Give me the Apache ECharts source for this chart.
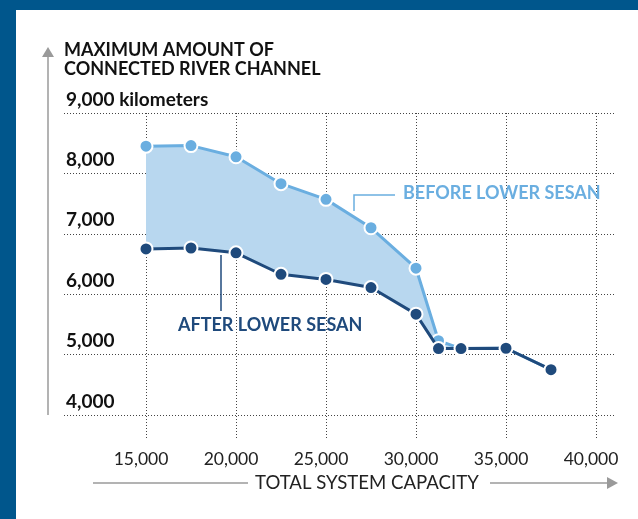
<!DOCTYPE html>
<html>
<head>
<meta charset="utf-8">
<script src="https://cdn.jsdelivr.net/npm/echarts@6/dist/echarts.min.js"></script>
<style>
html,body{margin:0;padding:0;background:#00568c;}
#chart{width:638px;height:519px;}
</style>
</head>
<body>
<div id="chart"></div>
<script>
// ---- data ----
var capacity = [15000, 17500, 20000, 22500, 25000, 27500, 30000, 31250, 32500, 35000, 37500];
var beforeLowerSesan = [8450, 8460, 8275, 7830, 7570, 7100, 6430, 5230, 5100, 5105, 4750];
var afterLowerSesan  = [6750, 6765, 6685, 6330, 6245, 6110, 5670, 5100, 5100, 5105, 4750];
var yTicks = [4000, 5000, 6000, 7000, 8000, 9000];
var xTicks = [15000, 20000, 25000, 30000, 35000, 40000];

var FONT = 'Lato';
var LIGHT = '#6aaee0';
var DARK = '#1f4a7c';
var FILL = '#b8d7ef';

function fmt(v){ return String(v).replace(/\B(?=(\d{3})+(?!\d))/g, ','); }

var pairs = function(ys){ return capacity.map(function(x,i){ return [x, ys[i]]; }); };

var chart = echarts.init(document.getElementById('chart'), null, {renderer:'canvas'});
var option = {
  backgroundColor: '#00568c',
  animation: false,
  textStyle: {fontFamily: FONT},
  graphic: [
    {type:'rect', z:-10, shape:{x:16, y:10, width:640, height:520}, style:{fill:'#ffffff'}},
    {type:'text', left:64, top:40, style:{text:'MAXIMUM AMOUNT OF\nCONNECTED RIVER CHANNEL', font:'bold 18px Lato', fill:'#111', lineHeight:19.5}},
    // y arrow
    {type:'line', shape:{x1:48, y1:56, x2:48, y2:415}, style:{stroke:'#9a9a9a', lineWidth:1.5}},
    {type:'polygon', shape:{points:[[48,47],[42,57],[54,57]]}, style:{fill:'#9a9a9a'}},
    // x arrow
    {type:'line', shape:{x1:93, y1:483, x2:248, y2:483}, style:{stroke:'#9a9a9a', lineWidth:1.5}},
    {type:'text', left:255, top:473, style:{text:'TOTAL SYSTEM CAPACITY', font:'18.6px Lato', fill:'#222'}},
    {type:'line', shape:{x1:490, y1:483, x2:608, y2:483}, style:{stroke:'#9a9a9a', lineWidth:1.5}},
    {type:'polygon', shape:{points:[[618,483],[607,477],[607,489]]}, style:{fill:'#9a9a9a'}},
    // annotations
    {type:'polyline', z:20, shape:{points:[[354,211],[354,195],[395,195]]}, style:{stroke:LIGHT, lineWidth:1.5, fill:null}},
    {type:'text', z:20, left:403, top:184, style:{text:'BEFORE LOWER SESAN', font:'bold 18px Lato', fill:LIGHT}},
    {type:'line', z:20, shape:{x1:221, y1:255, x2:221, y2:311}, style:{stroke:DARK, lineWidth:1.5}},
    {type:'text', z:20, left:178, top:316, style:{text:'AFTER LOWER SESAN', font:'bold 18px Lato', fill:DARK}}
  ],
  grid: [
    {left:146, right:42, top:113, bottom:104},
    {left:64, right:22, top:113, bottom:104},
    {left:146, right:42, top:113, bottom:79}
  ],
  xAxis: [
    {gridIndex:0, type:'value', min:15000, max:40000, show:false},
    {gridIndex:1, type:'value', min:0, max:1, show:false},
    {gridIndex:2, type:'value', min:15000, max:40000, interval:5000,
      axisLine:{show:false}, axisTick:{show:false},
      splitLine:{show:true, lineStyle:{color:'#444', width:1, type:[1,2]}},
      axisLabel:{margin:10, color:'#222', fontFamily:FONT,
        formatter:function(v){ return '{a|' + fmt(v) + '}{p|}'; },
        rich:{a:{fontSize:17.5, color:'#222', fontFamily:FONT}, p:{width:10}}}}
  ],
  yAxis: [
    {gridIndex:0, type:'value', min:4000, max:9000, show:false},
    {gridIndex:1, type:'value', min:4000, max:9000, interval:1000,
      axisLine:{show:false}, axisTick:{show:false},
      splitLine:{show:true, lineStyle:{color:'#444', width:1, type:[1,2]}},
      axisLabel:{inside:true, margin:2, align:'left', verticalAlign:'bottom', padding:[0,0,4,0],
        fontSize:19, fontWeight:'bold', color:'#111', fontFamily:FONT,
        formatter:function(v){ return v === 9000 ? fmt(v) + ' kilometers' : fmt(v); }}},
    {gridIndex:2, type:'value', min:0, max:1, show:false}
  ],
  series: [
    {type:'custom', xAxisIndex:0, yAxisIndex:0, data:[[capacity[0], afterLowerSesan[0]]], silent:true, z:1,
      renderItem:function(params, api){
        var pts = [];
        for (var i = 0; i < capacity.length; i++) pts.push(api.coord([capacity[i], beforeLowerSesan[i]]));
        for (var j = capacity.length - 1; j >= 0; j--) pts.push(api.coord([capacity[j], afterLowerSesan[j]]));
        return {type:'polygon', shape:{points:pts}, style:{fill:FILL}};
      }},
    {type:'line', name:'Before Lower Sesan', xAxisIndex:0, yAxisIndex:0, data:pairs(beforeLowerSesan),
      symbol:'circle', symbolSize:13, lineStyle:{color:LIGHT, width:3},
      itemStyle:{color:LIGHT, borderColor:'#fff', borderWidth:2}, z:5},
    {type:'line', name:'After Lower Sesan', xAxisIndex:0, yAxisIndex:0, data:pairs(afterLowerSesan),
      symbol:'circle', symbolSize:13, lineStyle:{color:DARK, width:3},
      itemStyle:{color:DARK, borderColor:'#fff', borderWidth:2}, z:6}
  ]
};
chart.setOption(option);
</script>
</body>
</html>
